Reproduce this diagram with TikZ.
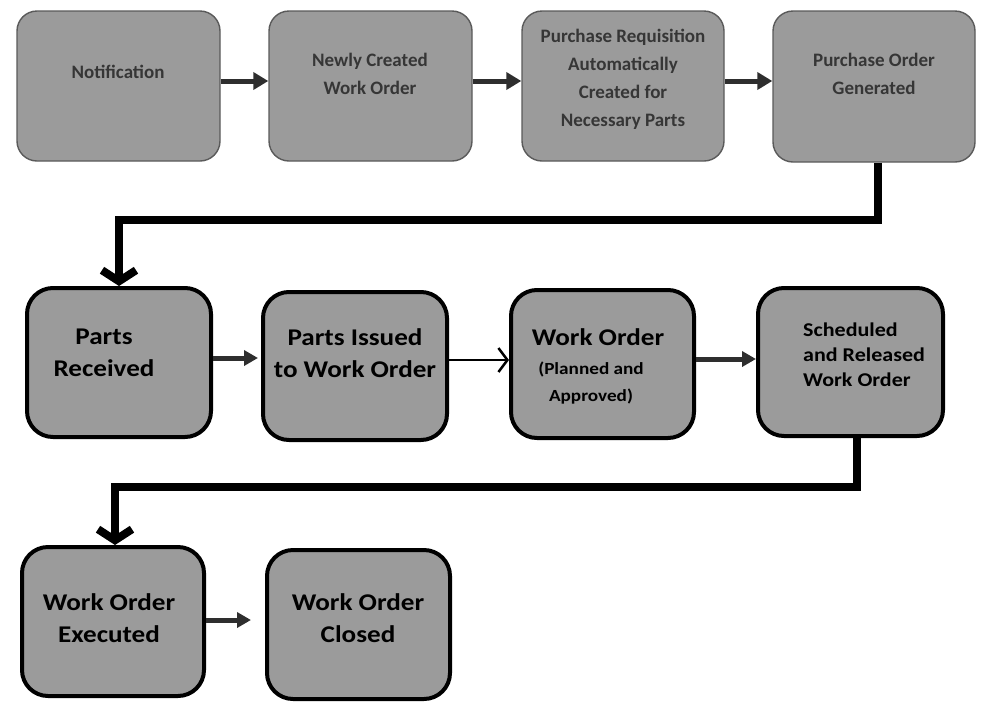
\documentclass[tikz,border=0pt]{standalone}
\usepackage{fontspec}
\setmainfont{Carlito}
\newfontfamily\widefont[FakeStretch=1.13]{Carlito}
\usetikzlibrary{arrows.meta}
\definecolor{boxfill}{HTML}{9B9B9B}
\definecolor{topline}{HTML}{5A5A5A}
\definecolor{toptext}{HTML}{363636}
\definecolor{arrowgray}{HTML}{2E2E2E}
\tikzset{
  topbox/.style={draw=topline, line width=1.4pt, fill=boxfill, rounded corners=20pt, inner sep=0pt},
  midbox/.style={draw=black, line width=4pt, fill=boxfill, rounded corners=26pt, inner sep=0pt},
  toptxt/.style={text=toptext, font=\bfseries\fontsize{19}{28}\selectfont, align=center, inner sep=0pt},
  midtxt/.style={text=black, font=\widefont\bfseries\fontsize{24}{32}\selectfont, align=center, inner sep=0pt},
  toparrow/.style={draw=arrowgray, line width=5pt, -{Triangle[length=15pt,width=17pt]}},
  midarrow/.style={draw=arrowgray, line width=5pt, -{Triangle[length=14pt,width=15pt]}},
  thinarrow/.style={draw=black, line width=2.5pt, -{Straight Barb[length=9pt,width=24pt]}},
  bigline/.style={draw=black, line width=8pt, -{Straight Barb[length=11pt,width=34pt]}}
}
\begin{document}
\begin{tikzpicture}[x=1pt,y=-1pt]
\useasboundingbox (0,0) rectangle (1002,713);
% top row
\node[topbox, minimum width=203pt, minimum height=150pt] (b1) at (118.5,86) {};
\node[topbox, minimum width=203pt, minimum height=150pt] (b2) at (370.5,86) {};
\node[topbox, minimum width=202pt, minimum height=150pt] (b3) at (623,86) {};
\node[topbox, minimum width=202pt, minimum height=151pt] (b4) at (874,86.5) {};
\node[toptxt] (t1) at (118,72) {Notification};
\node[toptxt] (t2) at (370,74) {Newly Created\\Work Order};
\node[toptxt] (t3) at (623,79) {Purchase Requisition\\Automatically\\Created for\\Necessary Parts};
\node[toptxt] (t4) at (874,74) {Purchase Order\\Generated};
% middle row
\node[midbox, minimum width=184pt, minimum height=149pt] (b5) at (119,362.5) {};
\node[midbox, minimum width=184pt, minimum height=148pt] (b6) at (355,366) {};
\node[midbox, minimum width=183pt, minimum height=148pt] (b7) at (602.5,364) {};
\node[midbox, minimum width=185pt, minimum height=148pt] (b8) at (850.5,362) {};
\node[midtxt] (t5) at (104,353) {Parts\\Received};
\node[midtxt] (t6) at (355,353) {Parts Issued\\to Work Order};
\node[midtxt] (t7a) at (598,337) {Work Order};
\node[text=black, font=\widefont\bfseries\fontsize{17}{27}\selectfont, align=center, inner sep=0pt] (t7b) at (591,383) {(Planned and\\Approved)};
\node[text=black, font=\widefont\bfseries\fontsize{19.5}{25}\selectfont, align=left, anchor=west, inner sep=0pt] (t8) at (803,355) {Scheduled\\and Released\\Work Order};
% bottom row
\node[midbox, minimum width=182pt, minimum height=149pt] (b9) at (113,621.5) {};
\node[midbox, minimum width=183pt, minimum height=149pt] (b10) at (358.5,624.5) {};
\node[midtxt] (t9) at (109,618) {Work Order\\Executed};
\node[midtxt] (t10) at (358,618) {Work Order\\Closed};
% connectors
\draw[toparrow] (b1.east |- 0,81) -- (b2.west |- 0,81);
\draw[toparrow] (b2.east |- 0,81) -- (b3.west |- 0,81);
\draw[toparrow] (b3.east |- 0,81) -- (b4.west |- 0,81);
\coordinate (c1) at (119,220);
\draw[bigline] ([xshift=4pt]b4.south) |- (c1) -- (b5.north);
\draw[midarrow] (b5.east |- 0,358) -- (258,358);
\draw[thinarrow] (b6.east |- 0,360) -- (b7.west |- 0,360);
\draw[midarrow] (b7.east |- 0,359) -- (b8.west |- 0,359);
\coordinate (c2) at (115,487);
\draw[bigline] ([xshift=6pt]b8.south) |- (c2) -- (c2 |- b9.north);
\draw[midarrow] (b9.east |- 0,620) -- (251,620);
\end{tikzpicture}
\end{document}
